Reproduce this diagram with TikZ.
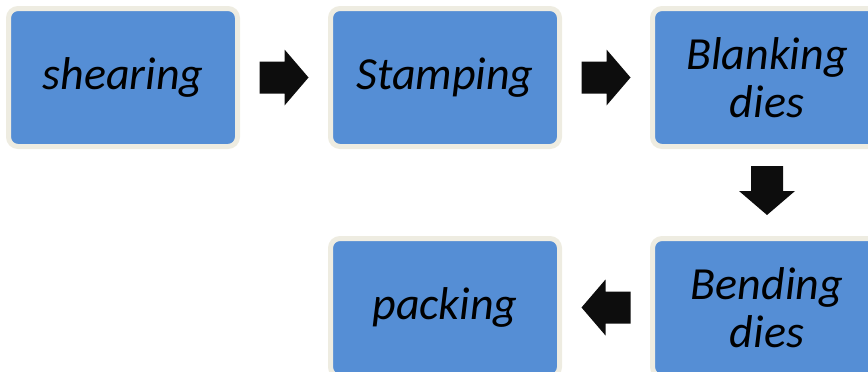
\documentclass[tikz,border=0pt]{standalone}
\usepackage{fontspec}
\setmainfont{Carlito}
\usetikzlibrary{calc}
\definecolor{boxblue}{HTML}{558ED5}
\definecolor{boxrim}{HTML}{EEECE1}
\definecolor{arrowcol}{HTML}{0D0D0D}
\tikzset{
  stepbox/.style={draw=boxrim, line width=5pt, fill=boxblue, rounded corners=9.5pt,
    minimum width=229pt, minimum height=138pt, inner sep=0pt, outer sep=0pt,
    align=center, text=black, font=\fontsize{46}{48}\selectfont\itshape},
  rarrow/.pic={\fill[arrowcol] (-24.5,-16) -- (0.5,-16) -- (0.5,-28) -- (24.5,0)
    -- (0.5,28) -- (0.5,16) -- (-24.5,16) -- cycle;}
}
\begin{document}
\begin{tikzpicture}[x=1pt,y=1pt]
\useasboundingbox (0,0) rectangle (868,-372);
\clip (0,0) rectangle (868,-372);
\node[stepbox] (b1) at (123,-77.5) {shearing};
\node[stepbox] (b2) at (445,-77.5) {Stamping};
\node[stepbox] (b3) at (767,-77.5) {Blanking\\dies};
\node[stepbox] (b4) at (767,-307.5) {Bending\\dies};
\node[stepbox] (b5) at (445,-307.5) {packing};
\pic at ($(b1.east)!0.5!(b2.west)$) {rarrow};
\pic at ($(b2.east)!0.5!(b3.west)$) {rarrow};
\pic[rotate=-90] at ($(b3.south)!0.5!(b4.north)+(0,2)$) {rarrow};
\pic[rotate=180] at ($(b4.west)!0.5!(b5.east)$) {rarrow};
\end{tikzpicture}
\end{document}
